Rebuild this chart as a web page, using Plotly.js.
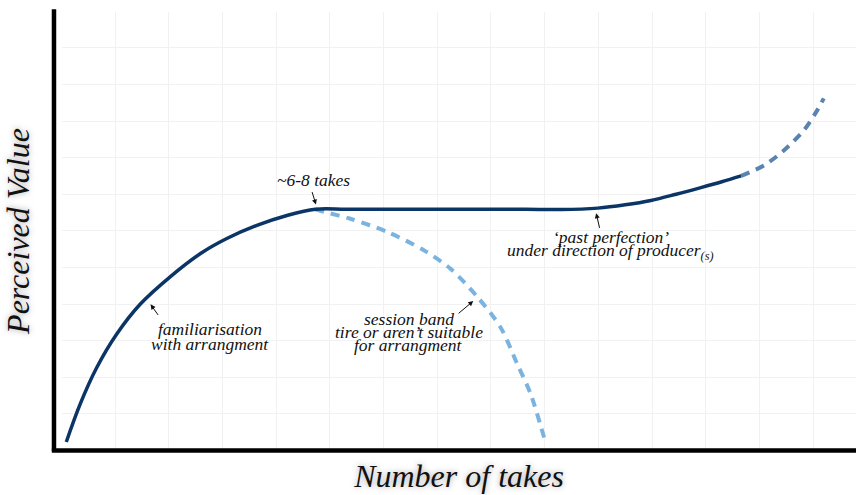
<!DOCTYPE html>
<html>
<head>
<meta charset="utf-8">
<script src="https://cdn.plot.ly/plotly-3.0.1.min.js"></script>
<style>html,body{margin:0;padding:0;background:#fff;}</style>
</head>
<body>
<div id="chart" style="width:856px;height:495px;"></div>
<script>
// Main curve: familiarisation, plateau, 'past perfection' (solid)
const mainX = [0.09, 0.35, 0.66, 1.03, 1.47, 2.03, 2.59, 3.08, 3.64, 4.20, 4.73, 5.3, 6.0, 6.7, 7.4, 8.1, 8.65, 9.3, 9.99, 10.5, 10.98, 11.45, 11.91, 12.3, 12.66];
const mainY = [0.23, 1.27, 2.27, 3.18, 4.00, 4.75, 5.38, 5.79, 6.15, 6.42, 6.59, 6.59, 6.59, 6.59, 6.59, 6.59, 6.59, 6.58, 6.62, 6.71, 6.83, 7.00, 7.18, 7.34, 7.50];
// Continuation under producer(s) (dashed, steel blue)
const upX = [12.66, 13.09, 13.46, 13.83, 14.06, 14.20];
const upY = [7.50, 7.79, 8.20, 8.75, 9.25, 9.62];
// Session band tires (dashed, light blue)
const downX = [4.73, 4.89, 5.38, 6.07, 6.75, 7.25, 7.75, 8.18, 8.49, 8.74, 8.99];
const downY = [6.59, 6.52, 6.33, 5.97, 5.47, 4.96, 4.19, 3.36, 2.36, 1.54, 0.35];

const xTitle = 'Number of takes';
const yTitle = 'Perceived Value';

// annotation labels: lines, centre x, first-line y, line step
const labels = [
  {lines: ['~6-8 takes'], x: 4.69, y: 7.38, step: 0},
  {lines: ['familiarisation', 'with arrangment'], x: 2.77, y: 3.33, step: 0.41},
  {lines: ['session band', 'tire or aren\u2019t suitable', 'for arrangment'], x: 6.47, y: 3.58, step: 0.355},
  {lines: ['\u2018past perfection\u2019', 'under direction of producer<sub>(s)</sub>'], x: 10.23, y: 5.82, step: 0.39}
];
// arrows: tail (ax, ay) -> head (x, y)
const arrows = [
  {ax: 4.66, ay: 7.10, x: 4.74, y: 6.72},
  {ax: 1.82, ay: 3.66, x: 1.66, y: 3.99},
  {ax: 7.37, ay: 3.71, x: 7.67, y: 4.08},
  {ax: 10.03, ay: 6.04, x: 9.96, y: 6.48}
];

const serif = 'Liberation Serif, DejaVu Serif, serif';

const annotations = [];
labels.forEach(l => {
  l.lines.forEach((t, i) => {
    annotations.push({
      x: l.x, y: l.y - i * l.step, xref: 'x', yref: 'y',
      text: '<i>' + t + '</i>', showarrow: false,
      font: {family: serif, size: 17.5, color: '#111'},
      xanchor: 'center', yanchor: 'middle'
    });
  });
});
arrows.forEach(a => {
  annotations.push({
    x: a.x, y: a.y, ax: a.ax, ay: a.ay, xref: 'x', yref: 'y', axref: 'x', ayref: 'y',
    text: '', showarrow: true, arrowhead: 2, arrowsize: 1, arrowwidth: 1, arrowcolor: '#111',
    standoff: 0, startstandoff: 0
  });
});

const traces = [
  {x: downX, y: downY, mode: 'lines', line: {color: '#7ab3df', width: 4, dash: '9px,7px', shape: 'spline', smoothing: 0.8}, hoverinfo: 'skip'},
  {x: upX, y: upY, mode: 'lines', line: {color: '#5a83b0', width: 4, dash: '9px,7px', shape: 'spline', smoothing: 0.8}, hoverinfo: 'skip'},
  {x: mainX, y: mainY, mode: 'lines', line: {color: '#0b3567', width: 3.5, shape: 'spline', smoothing: 1}, hoverinfo: 'skip'}
];

const layout = {
  width: 856, height: 495,
  margin: {l: 62, r: 0, t: 12, b: 45},
  paper_bgcolor: '#ffffff', plot_bgcolor: '#ffffff',
  showlegend: false,
  xaxis: {
    range: [0.01, 14.8], dtick: 1, tick0: 0, showticklabels: false, ticks: '',
    showgrid: true, gridcolor: '#f1f1f1', gridwidth: 1, zeroline: false, showline: false,
    title: {text: '<i>' + xTitle + '</i>', standoff: 14, font: {family: serif, size: 32, color: '#111', shadow: '0px 0px 6px rgba(0,0,0,0.35)'}}
  },
  yaxis: {
    range: [0.01, 11.98], dtick: 1, tick0: 0, showticklabels: false, ticks: '',
    showgrid: true, gridcolor: '#f1f1f1', gridwidth: 1, zeroline: false, showline: false,
    title: {text: '<i>' + yTitle + '</i>', standoff: 26, font: {family: serif, size: 32, color: '#111', shadow: '0px 0px 6px rgba(0,0,0,0.35)'}}
  },
  shapes: [
    {type: 'line', xref: 'paper', yref: 'paper', x0: -0.0101, x1: -0.0101, y0: -0.003, y1: 1.006, line: {color: '#000', width: 4.5}},
    {type: 'line', xref: 'paper', yref: 'paper', x0: -0.0128, x1: 1, y0: -0.001, y1: -0.001, line: {color: '#000', width: 4.5}}
  ],
  annotations: annotations
};

Plotly.newPlot('chart', traces, layout, {displayModeBar: false, staticPlot: true});
</script>
</body>
</html>
